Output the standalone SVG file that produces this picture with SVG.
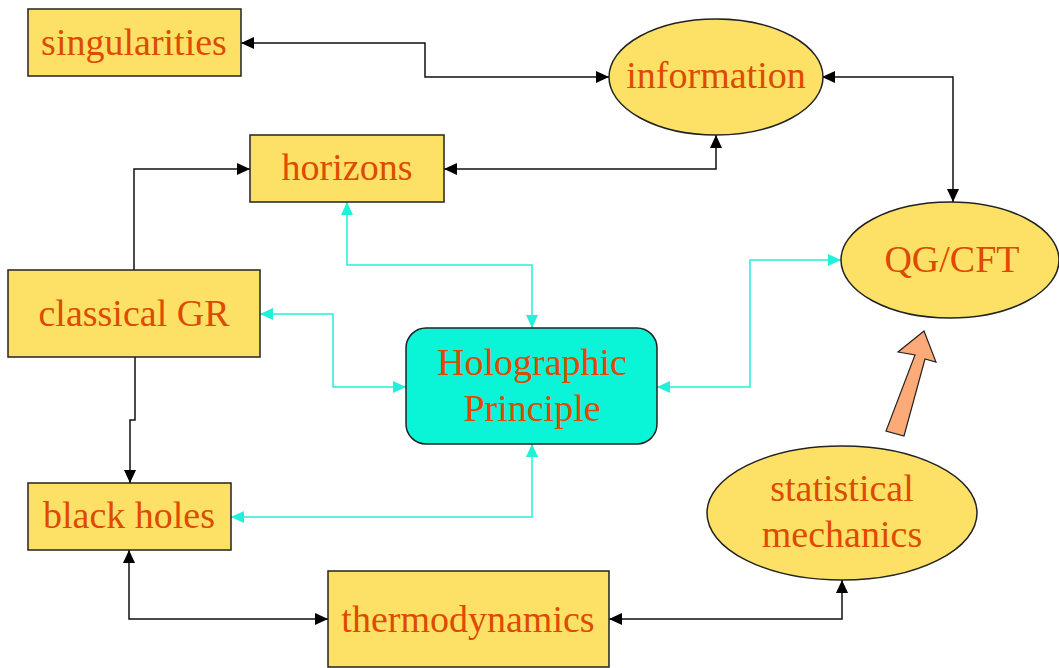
<svg xmlns="http://www.w3.org/2000/svg" width="1059" height="668" viewBox="0 0 1059 668">
<style>
.box{fill:#FCE166;stroke:#222;stroke-width:1.5}
.holo{fill:#0AF5D8;stroke:#222;stroke-width:1.5}
.lbl{font-family:"Liberation Serif","Times New Roman",serif;font-size:38px;fill:#DC4B00;text-anchor:middle}
.blk{fill:none;stroke:#111;stroke-width:1.5}
.cy{fill:none;stroke:#22F0D8;stroke-width:1.5}
</style>
<defs>
<marker id="ab" markerUnits="userSpaceOnUse" markerWidth="14" markerHeight="12" refX="13" refY="6" orient="auto-start-reverse"><path d="M0,0 L13,6 L0,12 Z" fill="#000"/></marker>
<marker id="ac" markerUnits="userSpaceOnUse" markerWidth="14" markerHeight="12" refX="13" refY="6" orient="auto-start-reverse"><path d="M0,0 L13,6 L0,12 Z" fill="#22F0D8"/></marker>
</defs>
<rect width="1059" height="668" fill="#fff"/>
<g id="connectors">
<path class="blk" d="M241,43 H425 V77 H609" marker-start="url(#ab)" marker-end="url(#ab)"/>
<path class="blk" d="M444,169 H716 V135" marker-start="url(#ab)" marker-end="url(#ab)"/>
<path class="blk" d="M822,77 H953 V202" marker-start="url(#ab)" marker-end="url(#ab)"/>
<path class="blk" d="M134,270 V169 H250" marker-end="url(#ab)"/>
<path class="blk" d="M135,357 V420 H130 V483" marker-end="url(#ab)"/>
<path class="blk" d="M129,550 V619 H328" marker-start="url(#ab)" marker-end="url(#ab)"/>
<path class="blk" d="M609,619 H842 V580" marker-start="url(#ab)" marker-end="url(#ab)"/>
<path class="cy" d="M347,202 V265 H532 V328" marker-start="url(#ac)" marker-end="url(#ac)"/>
<path class="cy" d="M260,314 H333 V387 H406" marker-start="url(#ac)" marker-end="url(#ac)"/>
<path class="cy" d="M231,517 H532 V444" marker-start="url(#ac)" marker-end="url(#ac)"/>
<path class="cy" d="M657,387 H750 V260 H841" marker-start="url(#ac)" marker-end="url(#ac)"/>
</g>
<g id="singularities"><rect class="box" x="28" y="9" width="213" height="67"/><text class="lbl" x="134" y="55">singularities</text></g>
<g id="information"><ellipse class="box" cx="716" cy="77" rx="107" ry="58"/><text class="lbl" x="716" y="88">information</text></g>
<g id="horizons"><rect class="box" x="250" y="135" width="194" height="67"/><text class="lbl" x="347" y="180">horizons</text></g>
<g id="classical-gr"><rect class="box" x="8" y="270" width="252" height="87"/><text class="lbl" x="134" y="326">classical GR</text></g>
<g id="qg-cft"><ellipse class="box" cx="950" cy="260" rx="109" ry="58"/><text class="lbl" x="952" y="272">QG/CFT</text></g>
<g id="holographic"><rect class="holo" x="406" y="328" width="251" height="116" rx="20"/><text class="lbl" x="532" y="375">Holographic</text><text class="lbl" x="532" y="421">Principle</text></g>
<g id="black-holes"><rect class="box" x="28" y="483" width="203" height="67"/><text class="lbl" x="129" y="528">black holes</text></g>
<g id="statistical-mechanics"><ellipse class="box" cx="842" cy="513" rx="135" ry="67"/><text class="lbl" x="842" y="501">statistical</text><text class="lbl" x="842" y="547">mechanics</text></g>
<g id="thermodynamics"><rect class="box" x="328" y="571" width="281" height="96"/><text class="lbl" x="468" y="632">thermodynamics</text></g>
<g id="fat-arrow"><polygon points="924,331 898,352 915,355 886,431 904,436 925,359 936,362" fill="#FCAA78" stroke="#222" stroke-width="1.2"/></g>
</svg>
